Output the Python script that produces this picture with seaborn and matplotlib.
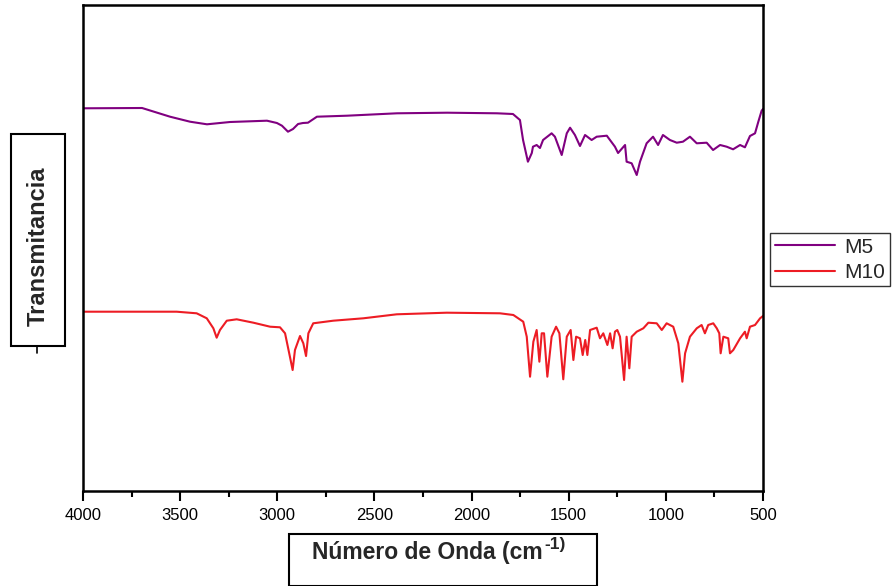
import numpy as np
import pandas as pd
import matplotlib
matplotlib.use("Agg")
import matplotlib.pyplot as plt
from matplotlib.patches import Rectangle
from matplotlib.lines import Line2D
import seaborn as sns

# ---- data (arbitrary transmittance units) ----
m5_wn = [4000, 3696, 3552, 3449, 3362, 3243, 3053, 3002, 2976, 2945, 2919, 2893, 2868, 2842,
         2796, 2641, 2384, 2126, 1869, 1787, 1751, 1735, 1710, 1690, 1684, 1665, 1648, 1632,
         1588, 1571, 1536, 1510, 1493, 1468, 1442, 1416, 1382, 1356, 1304, 1262, 1246, 1210,
         1202, 1176, 1150, 1133, 1099, 1066, 1040, 1015, 979, 944, 912, 876, 841, 790, 757,
         721, 687, 654, 618, 593, 567, 541, 524, 507, 500]
m5_t = [382.7, 383, 374.3, 369.3, 366.7, 369, 370.3, 368, 365.3, 359.3, 362, 367, 368, 368.3,
        374.3, 375.3, 377.7, 378.3, 377.7, 377, 371, 351, 329.3, 338, 344.3, 346, 343, 351,
        357.7, 354.3, 336, 357.7, 363.3, 356, 345, 356, 351, 354.3, 355.3, 344.3, 338, 346,
        329.3, 327.7, 316, 329.3, 347.7, 354.3, 346, 356, 351, 348.3, 349.3, 354.3, 347.7, 348.3, 341,
        346, 344.3, 341.7, 346, 343.7, 355, 357.7, 369.3, 380.3, 382]

m10_wn = [4000, 3518, 3415, 3363, 3329, 3312, 3295, 3260, 3209, 3123, 3037, 2986, 2960, 2935,
          2921, 2909, 2883, 2866, 2852, 2840, 2815, 2712, 2557, 2385, 2128, 1854, 1785, 1734,
          1716, 1699, 1682, 1665, 1651, 1639, 1627, 1610, 1588, 1565, 1548, 1528, 1510, 1490,
          1476, 1462, 1442, 1428, 1415, 1404, 1390, 1356, 1339, 1322, 1301, 1287, 1274, 1262,
          1250, 1236, 1215, 1202, 1188, 1176, 1150, 1116, 1090, 1047, 1021, 996, 962, 936, 915,
          901, 876, 841, 816, 799, 782, 756, 738, 725, 718, 704, 679, 670, 653, 618, 593, 584,
          567, 541, 515, 500]
m10_t = [179.3, 179.3, 177.7, 172.7, 162.7, 153.3, 161, 170.3, 171.7, 168.3, 164.3, 163.7, 157.7, 134.3,
         121, 141, 155, 147.7, 135, 157.7, 167.7, 170.3, 172.7, 176.7, 178.3, 177.7, 176, 169.3,
         154.3, 114.3, 149.3, 161, 129.3, 157.7, 157.7, 114.3, 154.3, 164.3, 157.7, 111.7, 154.3, 161,
         131, 154.3, 152.7, 136, 151, 136, 161, 163.3, 152.7, 157.7, 146, 157.7, 142.7, 159.3,
         161, 154.3, 111, 154.3, 122.7, 154.3, 159.3, 162.7, 168.3, 167.7, 161, 167.7, 164.3, 147.7, 109.3,
         137.7, 154.3, 162.7, 166, 157.7, 166, 167.7, 162.7, 157.7, 137.7, 154.3, 152.7, 137.7, 141, 152.7, 159.3, 152.7,
         164.3, 166, 172.7, 175]

series_names = ["M5", "M10"]
x_ticks = [4000, 3500, 3000, 2500, 2000, 1500, 1000, 500]

df = pd.concat([
    pd.DataFrame({"wn": m5_wn, "T": m5_t, "muestra": "M5"}),
    pd.DataFrame({"wn": m10_wn, "T": m10_t, "muestra": "M10"}),
], ignore_index=True)

sns.set_theme(style="white")
plt.rcParams["font.family"] = ["Liberation Sans", "DejaVu Sans"]

W, H = 893, 586
fig = plt.figure(figsize=(W / 100, H / 100), dpi=100)
ax = fig.add_axes([83 / W, 1 - 491 / H, (763 - 83) / W, (491 - 5) / H])

colors = {"M5": "#800080", "M10": "#ED1C24"}
sns.lineplot(data=df, x="wn", y="T", hue="muestra", hue_order=series_names,
             palette=colors, estimator=None, sort=True, linewidth=1.5, ax=ax, legend=False)

ax.set_xlim(4000, 500)
ax.set_ylim(0, 486)
ax.set_xticks(x_ticks)
ax.set_xticklabels([str(t) for t in x_ticks], fontsize=12)
ax.set_xticks(np.arange(3750, 500, -500), minor=True)
ax.set_yticks([])
ax.set_xlabel("")
ax.set_ylabel("")
ax.tick_params(axis="x", which="major", direction="out", length=7, width=1.5,
               colors="black", bottom=True, pad=5)
ax.tick_params(axis="x", which="minor", direction="out", length=4, width=1.5,
               colors="black", bottom=True)
for s in ax.spines.values():
    s.set_color("black")
    s.set_linewidth(1.8)
    s.set_visible(True)

# x-label box
fig.patches.append(Rectangle((289 / W, 0), (597 - 289) / W, (586 - 534) / H,
                             transform=fig.transFigure, fill=False, edgecolor="black",
                             linewidth=1.5))
fig.canvas.draw()
renderer = fig.canvas.get_renderer()
main_txt = fig.text(312 / W, 1 - 553 / H, "Número de Onda (cm", ha="left", va="center",
                    fontsize=16.5, fontweight="bold")
bb = main_txt.get_window_extent(renderer=renderer)
fig.text(bb.x1 / W + 2 / W, 1 - 545 / H, "-1)", ha="left", va="center",
         fontsize=12.5, fontweight="bold")

# y-label box
fig.patches.append(Rectangle((11 / W, 1 - 346 / H), (65 - 11) / W, (346 - 134) / H,
                             transform=fig.transFigure, fill=False, edgecolor="black",
                             linewidth=1.5))
fig.text(38 / W, 1 - 246 / H, "Transmitancia", ha="center", va="center", rotation=90,
         fontsize=17, fontweight="bold")
fig.lines.append(Line2D([37 / W, 37 / W], [1 - 347 / H, 1 - 353 / H],
                        transform=fig.transFigure, color="black", linewidth=1.2))

# legend
handles = [Line2D([], [], color=colors[n], linewidth=1.5) for n in series_names]
leg = fig.legend(handles, series_names, loc="upper left",
                 bbox_to_anchor=(770 / W, 1 - 233 / H), bbox_transform=fig.transFigure,
                 fontsize=15, frameon=True, fancybox=False, handlelength=2.9,
                 handletextpad=0.45, borderpad=0.22, labelspacing=0.3, borderaxespad=0)
leg.get_frame().set_edgecolor("black")
leg.get_frame().set_linewidth(1.0)

fig.savefig("out.png", dpi=100)
